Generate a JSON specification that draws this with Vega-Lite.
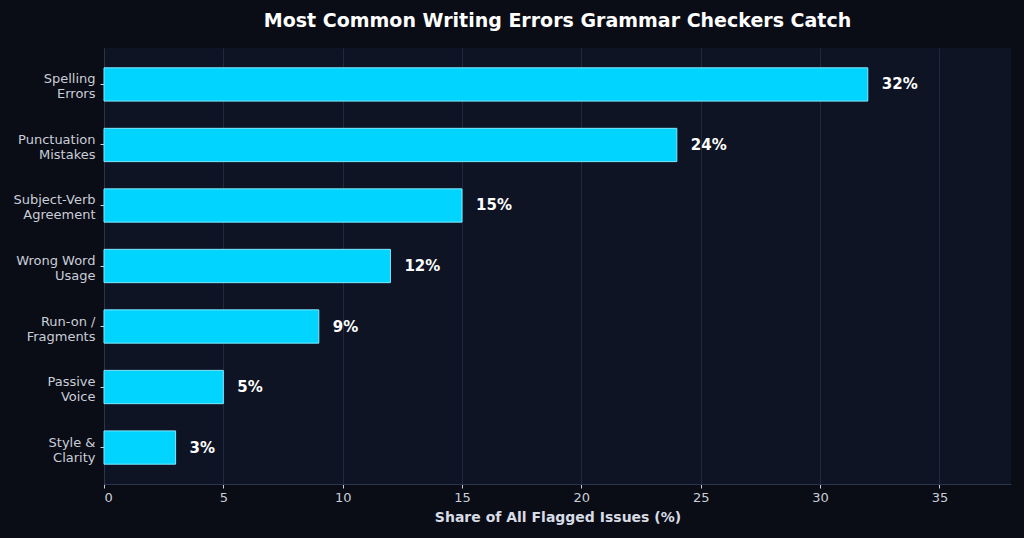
{
  "$schema": "https://vega.github.io/schema/vega-lite/v6.json",
  "width": 907,
  "height": 436,
  "autosize": {"type": "none"},
  "padding": {"left": 104, "top": 48, "right": 13, "bottom": 54},
  "background": "#0a0c16",
  "title": {
    "text": "Most Common Writing Errors Grammar Checkers Catch",
    "color": "#ffffff",
    "font": "DejaVu Sans",
    "fontSize": 19,
    "fontWeight": "bold",
    "anchor": "middle",
    "frame": "group",
    "offset": 17
  },
  "config": {
    "view": {"fill": "#0e1424", "stroke": null},
    "axis": {
      "labelFont": "DejaVu Sans",
      "labelFontSize": 13,
      "labelColor": "#c9ced8",
      "tickColor": "#c9ced8",
      "tickSize": 4,
      "domainColor": "#2a3650",
      "titleFont": "DejaVu Sans",
      "titleColor": "#d8dce5"
    }
  },
  "data": {
    "values": [
      {"error": "Spelling|Errors", "share": 32, "label": "32%"},
      {"error": "Punctuation|Mistakes", "share": 24, "label": "24%"},
      {"error": "Subject-Verb|Agreement", "share": 15, "label": "15%"},
      {"error": "Wrong Word|Usage", "share": 12, "label": "12%"},
      {"error": "Run-on /|Fragments", "share": 9, "label": "9%"},
      {"error": "Passive|Voice", "share": 5, "label": "5%"},
      {"error": "Style &|Clarity", "share": 3, "label": "3%"}
    ]
  },
  "encoding": {
    "y": {
      "field": "error",
      "type": "nominal",
      "sort": null,
      "scale": {"paddingInner": 0.45, "paddingOuter": 0.3275},
      "axis": {
        "title": null,
        "grid": false,
        "labelExpr": "split(datum.label, '|')",
        "labelLineHeight": 15,
        "labelOffset": -5,
        "labelPadding": 5
      }
    },
    "x": {
      "field": "share",
      "type": "quantitative",
      "scale": {"domain": [0, 38], "nice": false},
      "axis": {
        "title": "Share of All Flagged Issues (%)",
        "titleFontSize": 14,
        "titleFontWeight": "bold",
        "titlePadding": 6,
        "values": [0, 5, 10, 15, 20, 25, 30, 35],
        "grid": true,
        "gridColor": "#1f2a3e",
        "labelPadding": 3
      }
    }
  },
  "layer": [
    {
      "mark": {"type": "bar", "fill": "#00d4ff", "stroke": "#80e8ff", "strokeWidth": 1}
    },
    {
      "mark": {
        "type": "text",
        "align": "left",
        "baseline": "middle",
        "dx": 14,
        "font": "DejaVu Sans",
        "fontWeight": "bold",
        "fontSize": 15,
        "color": "#ffffff"
      },
      "encoding": {"text": {"field": "label"}}
    }
  ]
}
